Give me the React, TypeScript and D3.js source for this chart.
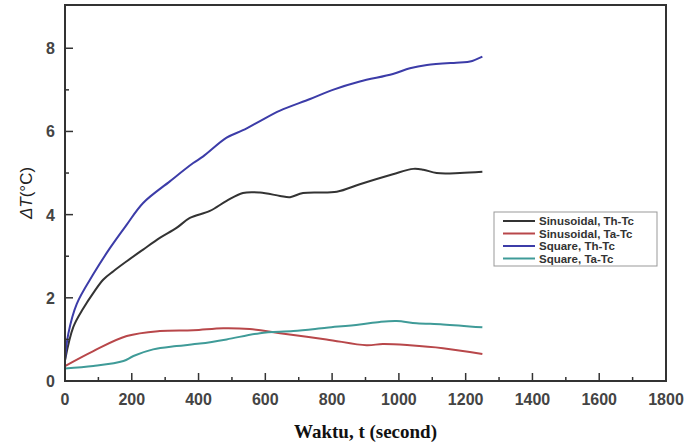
import React from "react";
import * as d3 from "d3";

// time (s) and ΔT (°C)
const sinThT = [0, 25, 55, 85, 115, 145, 185, 234, 284, 334, 374, 434, 484, 533, 584, 644, 674, 713, 814, 883, 982, 1043, 1073, 1113, 1183, 1250];
const sinThV = [0.5, 1.3, 1.75, 2.12, 2.44, 2.64, 2.88, 3.16, 3.44, 3.68, 3.92, 4.09, 4.33, 4.52, 4.53, 4.45, 4.42, 4.52, 4.55, 4.73, 4.97, 5.1, 5.08, 5.0, 5.0, 5.03];

const sinTaT = [0, 85, 185, 284, 384, 474, 553, 644, 783, 903, 952, 1033, 1132, 1250];
const sinTaV = [0.36, 0.72, 1.08, 1.2, 1.22, 1.27, 1.25, 1.15, 1.0, 0.86, 0.89, 0.86, 0.79, 0.65];

const sqThT = [0, 10, 35, 85, 135, 185, 234, 314, 384, 414, 484, 533, 584, 644, 734, 802, 883, 982, 1033, 1084, 1183, 1213, 1250];
const sqThV = [0.5, 1.14, 1.85, 2.57, 3.2, 3.76, 4.28, 4.8, 5.24, 5.4, 5.85, 6.03, 6.25, 6.5, 6.78, 7.0, 7.2, 7.38, 7.52, 7.6, 7.66, 7.68, 7.8];

const sqTaT = [0, 85, 175, 205, 264, 334, 404, 484, 584, 684, 783, 883, 943, 993, 1053, 1132, 1250];
const sqTaV = [0.3, 0.36, 0.48, 0.6, 0.76, 0.84, 0.9, 1.0, 1.15, 1.2, 1.28, 1.36, 1.42, 1.44, 1.39, 1.36, 1.29];

const seriesNames = ["Sinusoidal, Th-Tc", "Sinusoidal, Ta-Tc", "Square, Th-Tc", "Square, Ta-Tc"];
const seriesColors = ["#333333", "#b8474a", "#3c3ca8", "#3f9b98"];

const xTicks = [0, 200, 400, 600, 800, 1000, 1200, 1400, 1600, 1800];
const xMinor = [100, 300, 500, 700, 900, 1100, 1300, 1500, 1700];
const yTicks = [0, 2, 4, 6, 8];
const yMinor = [1, 3, 5, 7];

const W = 689;
const H = 445;
const margin = { top: 5, right: 23, bottom: 64, left: 65 };

const App = () => {
  const x = d3.scaleLinear().domain([0, 1800]).range([margin.left, W - margin.right]);
  const y = d3.scaleLinear().domain([0, 9.04]).range([H - margin.bottom, margin.top]);

  const series = [
    { t: sinThT, v: sinThV },
    { t: sinTaT, v: sinTaV },
    { t: sqThT, v: sqThV },
    { t: sqTaT, v: sqTaV },
  ];

  const line = d3
    .line<[number, number]>()
    .x((d) => x(d[0]))
    .y((d) => y(d[1]))
    .curve(d3.curveCatmullRom.alpha(0.5));

  const x0 = x(0);
  const y0 = y(0);
  const font = "'Liberation Sans', Arial, sans-serif";

  const lx = 494;
  const ly = 212;

  return (
    <svg width={W} height={H} style={{ position: "absolute", left: 0, top: 0, background: "#fff" }}>
      {series.map((s, i) => (
        <path
          key={i}
          d={line(s.t.map((t, j) => [t, s.v[j]] as [number, number])) || ""}
          fill="none"
          stroke={seriesColors[i]}
          strokeWidth={2}
        />
      ))}

      <rect
        x={margin.left}
        y={margin.top}
        width={W - margin.right - margin.left}
        height={H - margin.bottom - margin.top}
        fill="none"
        stroke="#333"
        strokeWidth={2}
      />

      {xTicks.map((t) => (
        <g key={"x" + t}>
          <line x1={x(t)} x2={x(t)} y1={y0} y2={y0 - 8} stroke="#333" strokeWidth={1.5} />
          <text x={x(t)} y={y0 + 24} textAnchor="middle" fontFamily={font} fontWeight="bold" fontSize={16} fill="#444">
            {t}
          </text>
        </g>
      ))}
      {xMinor.map((t) => (
        <line key={"xm" + t} x1={x(t)} x2={x(t)} y1={y0} y2={y0 - 4} stroke="#333" strokeWidth={1.5} />
      ))}

      {yTicks.map((v) => (
        <g key={"y" + v}>
          <line x1={x0} x2={x0 + 8} y1={y(v)} y2={y(v)} stroke="#333" strokeWidth={1.5} />
          <text x={x0 - 10} y={y(v) + 6} textAnchor="end" fontFamily={font} fontWeight="bold" fontSize={16} fill="#444">
            {v}
          </text>
        </g>
      ))}
      {yMinor.map((v) => (
        <line key={"ym" + v} x1={x0} x2={x0 + 4} y1={y(v)} y2={y(v)} stroke="#333" strokeWidth={1.5} />
      ))}

      <text
        x={(margin.left + W - margin.right) / 2}
        y={438}
        textAnchor="middle"
        fontFamily="'Liberation Serif', 'Times New Roman', serif"
        fontWeight="bold"
        fontSize={19}
        fill="#111"
      >
        Waktu, t (second)
      </text>

      <text
        transform={`translate(32, ${(margin.top + y0) / 2}) rotate(-90)`}
        textAnchor="middle"
        fontFamily={font}
        fontSize={17}
        fill="#222"
      >
        <tspan fontStyle="italic">ΔT</tspan>
        <tspan>(°C)</tspan>
      </text>

      <rect x={lx} y={ly} width={163} height={54} fill="#fff" stroke="#999" strokeWidth={1} />
      {seriesNames.map((name, i) => (
        <g key={name}>
          <line x1={lx + 9} x2={lx + 41} y1={ly + 9 + i * 12.5} y2={ly + 9 + i * 12.5} stroke={seriesColors[i]} strokeWidth={2} />
          <text x={lx + 45} y={ly + 13 + i * 12.5} fontFamily={font} fontWeight="bold" fontSize={11.5} fill="#333">
            {name}
          </text>
        </g>
      ))}
    </svg>
  );
};

export default App;
